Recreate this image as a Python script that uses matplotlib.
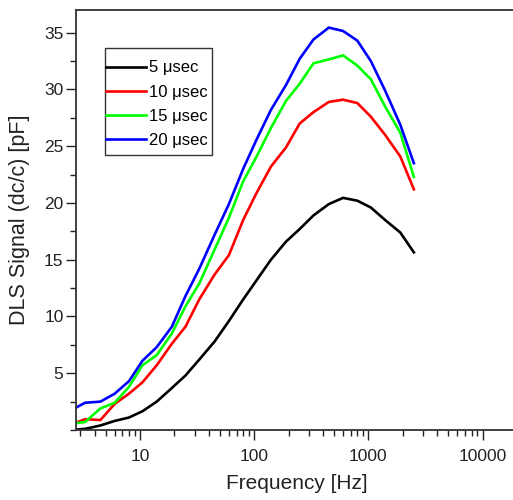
import numpy as np
import matplotlib
matplotlib.use("Agg")
import matplotlib.pyplot as plt
from matplotlib.patches import Rectangle
from matplotlib.ticker import MultipleLocator, FixedLocator, NullFormatter

plt.rcParams['font.family'] = ['Liberation Sans', 'DejaVu Sans']

# frequencies in Hz
freq = [2.5, 3.3, 4.5, 6, 8, 10.5, 14, 19, 25, 33, 45, 60, 80, 105, 140,
        190, 250, 330, 450, 600, 800, 1050, 1400, 1900, 2500]

# DLS signal [pF] for each pulse width
sig_5 = [0.0, 0.1, 0.4, 0.8, 1.1, 1.65, 2.5, 3.7, 4.8, 6.2, 7.8, 9.6, 11.5,
         13.2, 15.0, 16.6, 17.7, 18.9, 19.9, 20.45, 20.2, 19.6, 18.5, 17.4, 15.65]
sig_10 = [0.5, 0.95, 0.88, 2.3, 3.2, 4.2, 5.7, 7.6, 9.1, 11.5, 13.7, 15.4, 18.5,
          20.9, 23.2, 24.9, 27.0, 28.0, 28.9, 29.1, 28.8, 27.6, 26.0, 24.1, 21.2]
sig_15 = [0.55, 0.7, 1.9, 2.4, 3.8, 5.7, 6.6, 8.5, 10.9, 12.9, 15.9, 18.7, 21.9,
          24.1, 26.6, 29.0, 30.5, 32.3, 32.65, 33.0, 32.1, 30.9, 28.5, 26.2, 22.3]
sig_20 = [1.75, 2.4, 2.5, 3.2, 4.3, 6.1, 7.3, 9.1, 11.8, 14.2, 17.2, 19.9, 23.0,
          25.6, 28.2, 30.4, 32.7, 34.4, 35.45, 35.15, 34.3, 32.5, 29.9, 26.9, 23.5]

labels = ['5 \u03bcsec', '10 \u03bcsec', '15 \u03bcsec', '20 \u03bcsec']
colors = ['#000000', '#ff0000', '#00ff00', '#0000ff']

fig = plt.figure(figsize=(5.13, 5.0), dpi=100)
ax = fig.add_axes([76 / 513, 70 / 500, 441 / 513, 420 / 500])

for y, lab, c in zip([sig_5, sig_10, sig_15, sig_20], labels, colors):
    ax.plot(freq, y, color=c, lw=1.9, label=lab, solid_joinstyle='miter')

ax.set_xscale('log')
ax.set_xlim(2.75, 20000)
ax.set_ylim(0, 37)

ax.xaxis.set_major_locator(FixedLocator([10, 100, 1000, 10000]))
ax.set_xticklabels(['10', '100', '1000', '10000'])
ax.xaxis.set_minor_formatter(NullFormatter())
ax.yaxis.set_major_locator(FixedLocator([5, 10, 15, 20, 25, 30, 35]))
ax.yaxis.set_minor_locator(MultipleLocator(2.5))

ax.tick_params(which='both', direction='out', top=False, right=False,
               width=1.0, color='#222222', labelsize=12.5, labelcolor='#222222')
ax.tick_params(which='major', length=7)
ax.tick_params(which='minor', length=4)
ax.tick_params(axis='x', pad=7)
ax.tick_params(axis='y', pad=2)

for s in ax.spines.values():
    s.set_linewidth(1.3)
    s.set_color('#333333')

ax.set_xlabel('Frequency [Hz]', fontsize=15, color='#222222')
ax.set_ylabel('DLS Signal (dc/c) [pF]', fontsize=15.5, color='#222222')
ax.xaxis.set_label_coords(0.5, -0.105)
ax.yaxis.set_label_coords(-0.105, 0.5)

# legend frame drawn separately so the padding matches the original box
ax.add_patch(Rectangle((0.0658, 0.6548), 0.2426, 0.2547, transform=ax.transAxes,
                       fill=False, edgecolor='#333333', lw=1.0, zorder=4))
leg = ax.legend(loc='upper left', bbox_to_anchor=(0.069, 0.88), borderaxespad=0,
                fontsize=12, handlelength=2.35, handletextpad=0.2, labelspacing=0.55,
                borderpad=0, frameon=False)

fig.savefig('out.png', dpi=100)
